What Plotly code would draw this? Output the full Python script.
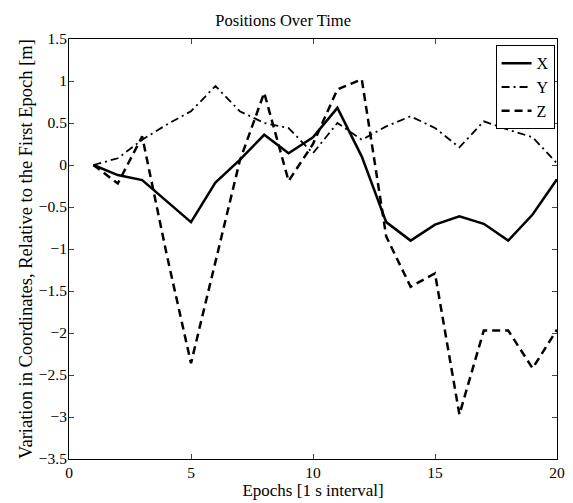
import plotly.graph_objects as go

epochs = list(range(1, 21))
x_vals = [0.0, -0.12, -0.18, -0.43, -0.68, -0.21, 0.06, 0.36, 0.14, 0.33,
          0.68, 0.10, -0.68, -0.90, -0.71, -0.61, -0.70, -0.90, -0.59, -0.17]
y_vals = [0.0, 0.08, 0.30, 0.48, 0.64, 0.94, 0.64, 0.50, 0.44, 0.14,
          0.50, 0.30, 0.46, 0.58, 0.44, 0.21, 0.52, 0.42, 0.33, 0.02]
z_vals = [0.0, -0.22, 0.34, -1.06, -2.36, -1.17, 0.05, 0.86, -0.19, 0.25,
          0.90, 1.02, -0.85, -1.45, -1.29, -2.97, -1.97, -1.97, -2.42, -1.96]

x_ticks = [0, 5, 10, 15, 20]
y_ticks = [1.5, 1, 0.5, 0, -0.5, -1, -1.5, -2, -2.5, -3, -3.5]
y_tick_text = [("\u2212" + f"{abs(v):g}") if v < 0 else f"{v:g}" for v in y_ticks]

font = "Liberation Serif"

fig = go.Figure()
fig.add_trace(go.Scatter(x=epochs, y=x_vals, mode="lines", name="X",
                         line=dict(color="black", width=2.5)))
fig.add_trace(go.Scatter(x=epochs, y=y_vals, mode="lines", name="Y",
                         line=dict(color="black", width=1.8, dash="8px,4px,2px,4px")))
fig.add_trace(go.Scatter(x=epochs, y=z_vals, mode="lines", name="Z",
                         line=dict(color="black", width=2.5, dash="8px,5px")))

# page body has an 8px margin, so the figure is sized to fit the window
fig.update_layout(
    width=565, height=495,
    margin=dict(l=61, r=16, t=31, b=44),
    paper_bgcolor="white", plot_bgcolor="white",
    font=dict(family=font, color="black", size=15),
    title=dict(text="Positions Over Time", x=0.487, xanchor="center",
               y=0.976, yanchor="middle", font=dict(size=16.5, family=font)),
    showlegend=True,
    legend=dict(x=0.995, y=0.985, xanchor="right", yanchor="top",
                bgcolor="white", bordercolor="black", borderwidth=1,
                font=dict(size=16, family=font), itemwidth=30,
                tracegroupgap=0),
)
fig.update_xaxes(
    range=[0, 20], tickvals=x_ticks, ticks="inside", ticklen=5,
    showline=True, linecolor="black", linewidth=1, mirror="ticks",
    showgrid=False, zeroline=False, automargin=False,
    ticklabelstandoff=-1,
    tickfont=dict(size=15.5, family=font),
    title=dict(text="Epochs [1 s interval]", standoff=2, font=dict(size=17, family=font)),
)
fig.update_yaxes(
    range=[-3.5, 1.5], tickvals=y_ticks, ticktext=y_tick_text,
    ticks="inside", ticklen=5,
    showline=True, linecolor="black", linewidth=1, mirror="ticks",
    showgrid=False, zeroline=False, automargin=False,
    ticklabelstandoff=-2,
    tickfont=dict(size=15.5, family=font),
    title=dict(text="Variation in Coordinates, Relative to the First Epoch [m]",
               standoff=1, font=dict(size=18.5, family=font)),
)

fig.write_html("out.html")
